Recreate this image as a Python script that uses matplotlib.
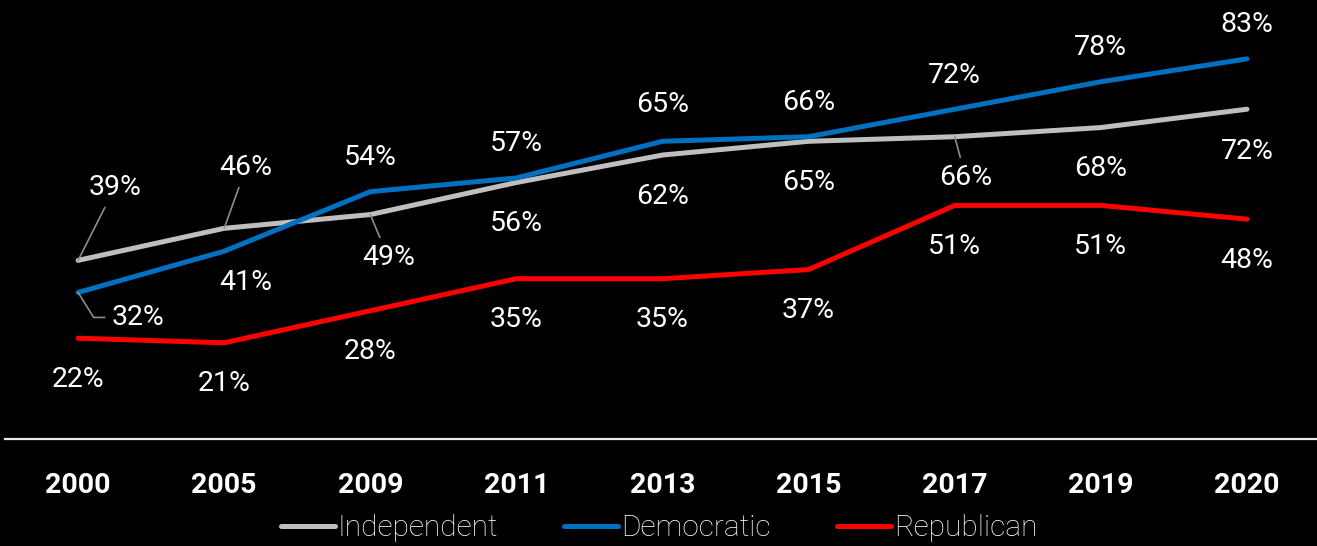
import matplotlib
matplotlib.use("Agg")
import matplotlib.pyplot as plt

plt.rcParams["font.family"] = ["Roboto", "DejaVu Sans"]

years = ["2000", "2005", "2009", "2011", "2013", "2015", "2017", "2019", "2020"]
independent = [39, 46, 49, 56, 62, 65, 66, 68, 72]
democratic = [32, 41, 54, 57, 65, 66, 72, 78, 83]
republican = [22, 21, 28, 35, 35, 37, 51, 51, 48]

series = [
    ("Independent", independent, "#BFBFBF"),
    ("Democratic", democratic, "#0070C0"),
    ("Republican", republican, "#FF0000"),
]

# label offsets in pixels (dx, dy) from each point
ABOVE, BELOW = (0, 34), (0, -41)
label_offsets = {
    "Independent": [(37, 73), (22, 61), (18, -43), BELOW, BELOW, BELOW, (11, -41), BELOW, (0, -42)],
    "Democratic": [(60, -25), (22, -31), ABOVE, ABOVE, (0, 37), ABOVE, ABOVE, ABOVE, ABOVE],
    "Republican": [BELOW] * 9,
}
# points whose labels get a leader line
leaders = {("Independent", 0), ("Independent", 1), ("Independent", 2),
           ("Independent", 6), ("Democratic", 0)}

W, H = 1317, 546
fig = plt.figure(figsize=(W / 100, H / 100), dpi=100, facecolor="black")
ax = fig.add_axes([5 / W, 107 / H, 1315 / W, 439 / H], facecolor="black")

x = list(range(len(years)))
for name, vals, color in series:
    ax.plot(x, vals, color=color, lw=3.6, solid_capstyle="round",
            solid_joinstyle="round", label=name, zorder=3)

for name, vals, color in series:
    for i, v in enumerate(vals):
        dx, dy = label_offsets[name][i]
        kw = {}
        if (name, i) in leaders:
            cs = "angle,angleA=0,angleB=122,rad=0" if name == "Democratic" else "arc3"
            kw["arrowprops"] = dict(arrowstyle="-", color="#8C8C8C", lw=1.2,
                                    shrinkA=3, shrinkB=0, connectionstyle=cs)
        ax.annotate(f"{v}%", xy=(i, v), xytext=(dx, dy), textcoords="offset pixels",
                    ha="center", va="center", color="white", fontsize=20.5,
                    zorder=4, **kw)

ax.set_xlim(-0.5, 8.5)
ax.set_ylim(0, 95.85)
ax.set_xticks(x)
ax.set_xticklabels(years, fontsize=20.5, fontweight="bold", color="white")
ax.tick_params(axis="x", length=0, pad=23.5)
ax.set_yticks([])
for s in ("left", "right", "top"):
    ax.spines[s].set_visible(False)
ax.spines["bottom"].set_color("#E6E6E6")
ax.spines["bottom"].set_linewidth(1.6)

leg = fig.legend(loc="center", bbox_to_anchor=(659 / W, 1 - 528 / H), ncol=3,
                 frameon=False, handlelength=1.82, handletextpad=0.1,
                 columnspacing=2.2, borderaxespad=0,
                 prop={"size": 21.5, "weight": "light"})
for t in leg.get_texts():
    t.set_color("white")

fig.savefig("out.png", dpi=100, facecolor="black")
